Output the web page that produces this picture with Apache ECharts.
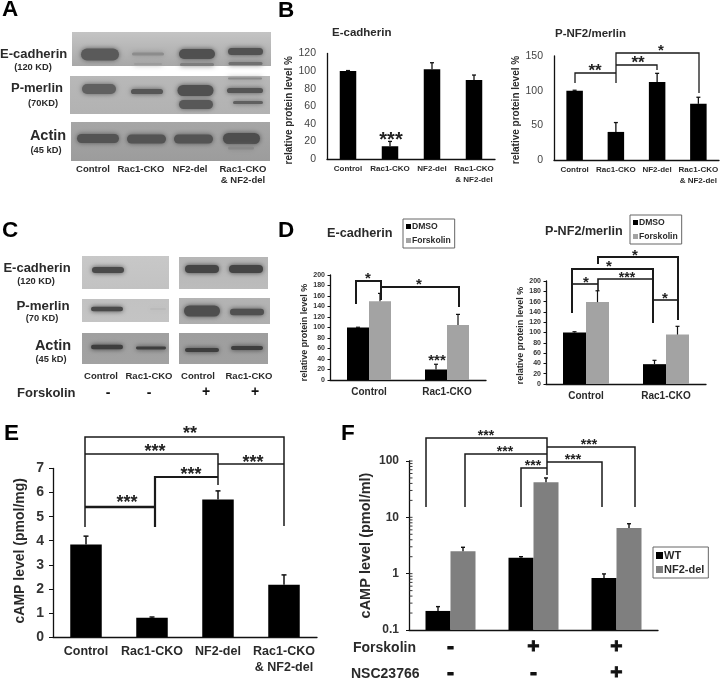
<!DOCTYPE html>
<html><head><meta charset="utf-8">
<script src="https://cdn.jsdelivr.net/npm/echarts@6/dist/echarts.min.js"></script>
<style>html,body{margin:0;padding:0;background:#fff}#c{width:720px;height:681px}</style>
</head><body><div id="c"></div>
<script>
// ---------- values ----------
const fourGroups = ['Control','Rac1-CKO','NF2-del','Rac1-CKO\n& NF2-del'];
const twoGroups = ['Control','Rac1-CKO'];
const treatmentRows = ['-\n-','+\n-','+\n+'];

const bEcad = [100,14.5,102,90];
const bEcadTop = [100.6,20,109.5,95.5];
const bMerlin = [100,40.5,112.5,81];
const bMerlinTop = [100.6,54,125,90.5];

const dEcadDmso = [100,20];
const dEcadDmsoTop = [100.5,30];
const dEcadFors = [150,105];
const dEcadForsTop = [165,125];
const dMerlinDmso = [100,38.5];
const dMerlinDmsoTop = [101.5,46];
const dMerlinFors = [159,96];
const dMerlinForsTop = [181,112];

const eCamp = [3.84,0.8,5.71,2.17];
const eCampTop = [4.19,0.83,6.07,2.58];

const fWt = [0.218,1.92,0.84];
const fWtTop = [0.26,2.0,0.99];
const fNf2 = [2.5,42,6.45];
const fNf2Top = [2.94,50,7.7];
const fLogTicks = [0.2,0.3,0.4,0.5,0.6,0.7,0.8,0.9,1,2,3,4,5,6,7,8,9,10,20,30,40,50,60,70,80,90,100];

// ---------- styles ----------
const FF = '"Liberation Sans",Arial,sans-serif';
const INK = '#2a2a2a';

function baseX(i, data, fs, lh, margin, color, border){
  return {type:'category',gridIndex:i,data:data,
    axisLine:{show:true,onZero:false,lineStyle:{color:'#111',width:1.3}},axisTick:{show:false},
    axisLabel:{interval:0,fontFamily:FF,fontWeight:'bold',fontSize:fs,lineHeight:lh,margin:margin,color:color||INK,
      textBorderColor:border?'#111':'transparent',textBorderWidth:border||0},
    splitLine:{show:false}};
}
function baseY(i, o){
  return {type:o.type||'value',gridIndex:i,min:o.min,max:o.max,interval:o.interval,logBase:o.logBase,
    name:o.name,nameLocation:'middle',nameRotate:90,nameGap:o.nameGap,
    nameTextStyle:{fontFamily:FF,fontWeight:'bold',fontSize:o.nameSize,color:INK,padding:o.namePad||0},
    axisLine:{show:true,lineStyle:{color:'#111',width:1.3}},
    axisTick:{show:o.tick>0,length:o.tick||0,lineStyle:{color:'#111',width:1}},
    minorTick:{show:false},
    axisLabel:{fontFamily:FF,fontWeight:o.labelWeight||'normal',fontSize:o.labelSize,margin:o.labelMargin,color:o.labelColor||'#444',
      formatter:o.formatter},
    splitLine:{show:false}};
}
function bar(name, i, data, width, color, gapZero){
  return {type:'bar',name:name,xAxisIndex:i,yAxisIndex:i,data:data,barWidth:width,barGap:gapZero?0:undefined,
    itemStyle:{color:color},z:2,silent:true};
}
// bars on the log axis start from the axis minimum
function logBar(name, i, data, width, color, offset, base){
  return {type:'custom',name:name,xAxisIndex:i,yAxisIndex:i,z:2,silent:true,itemStyle:{color:color},
    encode:{x:0,y:1},data:data.map((v,k)=>[k,v]),
    renderItem(params, api){
      const top = api.coord([api.value(0),api.value(1)]);
      const bot = api.coord([api.value(0),base]);
      return {type:'rect',shape:{x:top[0]+offset,y:top[1],width:width,height:bot[1]-top[1]},style:{fill:color}};
    }};
}
// upward error bar, offset horizontally in pixels from the category centre
function err(i, vals, tops, offset, cap, lw){
  return {type:'custom',xAxisIndex:i,yAxisIndex:i,z:3,silent:true,
    encode:{x:0,y:[1,2]},
    data:vals.map((v,k)=>[k,v,tops[k]]),
    renderItem(params, api){
      const a = api.coord([api.value(0),api.value(1)]);
      const b = api.coord([api.value(0),api.value(2)]);
      const x = a[0]+offset;
      const st = {stroke:'#111',lineWidth:lw,fill:null};
      return {type:'group',children:[
        {type:'line',shape:{x1:x,y1:a[1],x2:x,y2:b[1]},style:st},
        {type:'line',shape:{x1:x-cap/2,y1:b[1],x2:x+cap/2,y2:b[1]},style:st}
      ]};
    }};
}
function logTicks(i, values){
  return {type:'custom',xAxisIndex:i,yAxisIndex:i,z:3,silent:true,encode:{x:0,y:1},
    data:values.map(v=>[0,v]),
    renderItem(params, api){
      const p = api.coord([0,api.value(1)]);
      const x = params.coordSys.x;
      return {type:'line',shape:{x1:x,y1:p[1],x2:x+3.5,y2:p[1]},style:{stroke:'#222',lineWidth:0.9,fill:null}};
    }};
}

const grids = [
  {left:327,top:53.5,width:168,height:105.5},
  {left:554,top:56,width:165,height:104},
  {left:330,top:275,width:156,height:105},
  {left:546,top:281,width:160,height:103},
  {left:53,top:468.5,width:264,height:168.5},
  {left:409,top:461,width:249,height:169}
].map(g=>Object.assign(g,{outerBoundsMode:'none',containLabel:false}));
const xAxes = [
  baseX(0,fourGroups,8,10.5,5),
  baseX(1,fourGroups,8,10.5,5),
  baseX(2,twoGroups,10,12,6),
  baseX(3,twoGroups,10,12,6),
  baseX(4,fourGroups,12.5,15.5,7),
  baseX(5,treatmentRows,21,26,4,'#111',0.9)
];
const yAxes = [
  baseY(0,{min:0,max:120,interval:20,name:'relative protein level %',nameGap:30,nameSize:10,namePad:[0,8,0,0],labelSize:10.5,labelMargin:11}),
  baseY(1,{min:0,max:150,interval:50,name:'relative protein level %',nameGap:30,nameSize:10,namePad:[0,4,0,0],labelSize:10.5,labelMargin:11}),
  baseY(2,{min:0,max:200,interval:20,name:'relative protein level %',nameGap:20,nameSize:9,namePad:[0,10,0,0],labelSize:7,labelWeight:'bold',labelMargin:5,tick:2.5,labelColor:'#333'}),
  baseY(3,{min:0,max:200,interval:20,name:'relative protein level %',nameGap:19,nameSize:9,namePad:[0,6,0,0],labelSize:7,labelWeight:'bold',labelMargin:5,tick:2.5,labelColor:'#333'}),
  baseY(4,{min:0,max:7,interval:1,name:'cAMP level (pmol/mg)',nameGap:26,nameSize:14,namePad:[0,0,0,4],labelSize:14,labelWeight:'bold',labelMargin:9,tick:4,labelColor:'#333'}),
  baseY(5,{type:'log',logBase:10,min:0.1,max:100,name:'cAMP level (pmol/ml)',nameGap:36,nameSize:14.5,labelSize:12,labelWeight:'bold',labelMargin:10,tick:3,labelColor:'#333',formatter:v=>String(+(+v).toPrecision(3))})
];
const BLK='#000', G1='#a3a3a3', G2='#7f7f7f';
const series = [
  bar('E-cadherin',0,bEcad,16.5,BLK), err(0,bEcad,bEcadTop,0,4,1.3),
  bar('P-NF2/merlin',1,bMerlin,16.5,BLK), err(1,bMerlin,bMerlinTop,0,4,1.3),
  bar('DMSO',2,dEcadDmso,22,BLK,true), bar('Forskolin',2,dEcadFors,22,G1,true),
  err(2,dEcadDmso,dEcadDmsoTop,-11,4,1.2), err(2,dEcadFors,dEcadForsTop,11,4,1.2),
  bar('DMSO',3,dMerlinDmso,23,BLK,true), bar('Forskolin',3,dMerlinFors,23,G1,true),
  err(3,dMerlinDmso,dMerlinDmsoTop,-11.5,4,1.2), err(3,dMerlinFors,dMerlinForsTop,11.5,4,1.2),
  bar('cAMP',4,eCamp,31.5,BLK), err(4,eCamp,eCampTop,0,5,1.5),
  logBar('WT',5,fWt,25,BLK,-25,0.1), logBar('NF2-del',5,fNf2,25,G2,0,0.1),
  err(5,fWt,fWtTop,-12.5,4,1.4), err(5,fNf2,fNf2Top,12.5,4,1.4),
  logTicks(5,fLogTicks)
];

function legend(names, left, top, fs, sq, gap){
  return {show:true,data:names,orient:'vertical',left:left,top:top,padding:[3,4,3,3],itemGap:gap,itemWidth:sq,itemHeight:sq,
    selectedMode:false,icon:'rect',backgroundColor:'#fff',borderColor:'#666',borderWidth:1,z:6,
    textStyle:{fontFamily:FF,fontWeight:'bold',fontSize:fs,color:INK,padding:[0,0,0,-4]}};
}
const legends = [
  legend(['DMSO','Forskolin'],403,219,8.6,5,5),
  legend(['DMSO','Forskolin'],630,215,8.6,5,5),
  legend(['WT','NF2-del'],653,547,11,7,3)
];

// ---------- figure annotation, in page pixels ----------
const el = [];
function txt(s,x,y,size,opt){
  opt=opt||{};
  el.push({type:'text',z:opt.z||10,silent:true,style:{text:s,x:x,y:y,fill:opt.fill||INK,
    font:(opt.weight||'bold')+' '+size+'px '+FF,textAlign:opt.align||'center',textVerticalAlign:'middle'}});
}
function stars(s,x,y,size){ txt(s,x,y+size*0.2,size,{fill:'#222'}); }
function poly(points,w){
  el.push({type:'polyline',z:9,silent:true,shape:{points:points},style:{stroke:'#1a1a1a',lineWidth:w,fill:null}});
}
// panel letters
[['A',2,10],['B',278,11],['C',2,231],['D',278,231],['E',4,434],['F',341,434]].forEach(a=>txt(a[0],a[1],a[2],22.5,{align:'left',fill:'#000'}));

// titles
txt('E-cadherin',332,33,11.5,{align:'left'});
txt('P-NF2/merlin',555,34,11.5,{align:'left'});
txt('E-cadherin',327,233,12.7,{align:'left'});
txt('P-NF2/merlin',545,232,12.6,{align:'left'});

// blots: x, y, w, h, top tone, bottom tone
const blotPanels = [
  [72,32,199,34,'#c4c4c4','#a8a8a8'],[70,76,200,38,'#b8b8b8','#b2b2b2'],[71,122,199,39,'#a6a6a6','#9c9c9c'],
  [82,256,87,33,'#c8c8c8','#c2c2c2'],[179,257,89,32,'#b6b6b6','#bcbcbc'],
  [82,299,87,23,'#c2c2c2','#c4c4c4'],[179,298,91,26,'#b4b4b4','#aeaeae'],
  [82,333,87,31,'#a0a0a0','#a2a2a2'],[179,333,89,31,'#9e9e9e','#a0a0a0']
];
// cx, cy, rx, ry, tone
const blotBands = [
  [100,54.5,19,6,'#5a5a5a'],[148,54,16,1.6,'#8c8c8c'],[148,64,14,1,'#9c9c9c'],
  [197,54,18,5,'#505050'],[197,64.5,17,1.5,'#7e7e7e'],[245.5,51.5,17.5,3.5,'#525252'],[245.5,63.5,17,1.5,'#707070'],
  [99,89,17,5,'#606060'],[147,91.5,16,2.6,'#565656'],[195.5,90.5,18,5.5,'#505050'],[196,104.5,17,4.5,'#585858'],
  [245,90.5,18,2.6,'#555555'],[245,78.5,17,1,'#8a8a8a'],[248,102.5,15,1.6,'#606060'],
  [98,138.5,21,4.5,'#545454'],[146.5,139,19.5,4.5,'#545454'],[193.5,139,19.5,4.5,'#545454'],[241.5,138.5,18.5,5.5,'#4e4e4e'],[241,148,13,1.5,'#888888'],
  [108,270,16,3,'#4a4a4a'],[202,269,17,4,'#454545'],[246,269,17,4,'#454545'],
  [107,309,16,2.2,'#4a4a4a'],[158,309,8,0.5,'#b4b4b4'],[202,311,18,5.5,'#4e4e4e'],[247,312,17,3.2,'#505050'],
  [107,347,16,2.2,'#3e3e3e'],[151,348,15,1.4,'#3e3e3e'],[202,350,17,2,'#3e3e3e'],[247,348,16,1.9,'#3e3e3e']
];
blotPanels.forEach(p=>el.push({type:'rect',z:1,silent:true,shape:{x:p[0],y:p[1],width:p[2],height:p[3]},
  style:{fill:new echarts.graphic.LinearGradient(0,0,0,1,[{offset:0,color:p[4]},{offset:1,color:p[5]}])}}));
blotBands.forEach(b=>el.push({type:'rect',z:2,silent:true,shape:{x:b[0]-b[2],y:b[1]-b[3],width:2*b[2],height:2*b[3],r:b[3]},
  style:{fill:b[4],shadowBlur:5,shadowColor:b[4]}}));

// blot labels A
txt('E-cadherin',0,54,13,{align:'left'}); txt('(120 KD)',33,67,9.3);
txt('P-merlin',37,88,13); txt('(70KD)',43,103,9.3);
txt('Actin',48,136,14.5); txt('(45 kD)',46,150,9.3);
txt('Control',93,169,9.5); txt('Rac1-CKO',141,169,9.5); txt('NF2-del',190,169,9.5);
txt('Rac1-CKO',243,169,9.5); txt('& NF2-del',243,180,9.5);
// blot labels C
txt('E-cadherin',37,268,13); txt('(120 KD)',36,281,9.3);
txt('P-merlin',43,306,13.3); txt('(70 KD)',42,318,9.3);
txt('Actin',53,346,14.5); txt('(45 kD)',51,359,9.3);
txt('Control',101,376,9.5); txt('Rac1-CKO',149,376,9.5); txt('Control',198,376,9.5); txt('Rac1-CKO',249,376,9.5);
txt('Forskolin',17,393,13,{align:'left'});
txt('-',108,393,14,{fill:'#111'}); txt('-',149,393,14,{fill:'#111'}); txt('+',206,392,14,{fill:'#111'}); txt('+',255,392,14,{fill:'#111'});
// row labels F
txt('Forskolin',353,648,14,{align:'left'});
txt('NSC23766',351,674,14,{align:'left'});

// significance brackets
stars('***',391,136,20);
poly([[575,83],[575,73],[616,73]],1.3); poly([[616,83],[616,53],[699,53],[699,93]],1.3); poly([[616,65],[657,65],[657,70]],1.3);
stars('**',595,68,17); stars('**',638,60,17); stars('*',661,48,15);

poly([[356,304],[356,281],[381,281],[381,300]],2); poly([[381,287],[459,287],[459,307]],2);
stars('*',368,276,15); stars('*',419,282,15); stars('***',437,358,15);

poly([[598,264],[598,257],[678,257],[678,320]],2); poly([[572,313],[572,269],[653,269],[653,323]],2);
poly([[572,284],[598,284]],1.6); poly([[598,291],[598,279],[653,279]],1.6); poly([[653,300],[678,300]],1.6);
stars('*',635,253,15); stars('*',609,264,15); stars('***',627,275,14); stars('*',586,280,15); stars('*',665,296,15);

poly([[85,527],[85,437],[284,437],[284,526]],1.5);
poly([[85,454],[218,454],[218,485]],1.5);
poly([[85,507],[155,507]],2.4); poly([[155,527],[155,477],[218,477]],2.2);
poly([[218,464],[284,464]],1.5);
stars('**',190,430,18); stars('***',155,448,18); stars('***',127,499,18); stars('***',191,471,18); stars('***',253,459,18);

poly([[426,507],[426,438],[547,438],[547,475]],1.5);
poly([[465,507],[465,454],[547,454]],1.5);
poly([[521,507],[521,468],[547,468]],1.5);
poly([[547,447],[635,447],[635,507]],1.5);
poly([[547,462],[602,462],[602,507]],1.5);
stars('***',486,433,14); stars('***',505,449,14); stars('***',533,463,14); stars('***',589,442,14); stars('***',573,457,14);

const chart = echarts.init(document.getElementById('c'),null,{renderer:'canvas',width:720,height:681});
chart.setOption({
  animation:false,backgroundColor:'#fff',
  grid:grids,xAxis:xAxes,yAxis:yAxes,series:series,legend:legends,
  graphic:{elements:el}
});
</script></body></html>
